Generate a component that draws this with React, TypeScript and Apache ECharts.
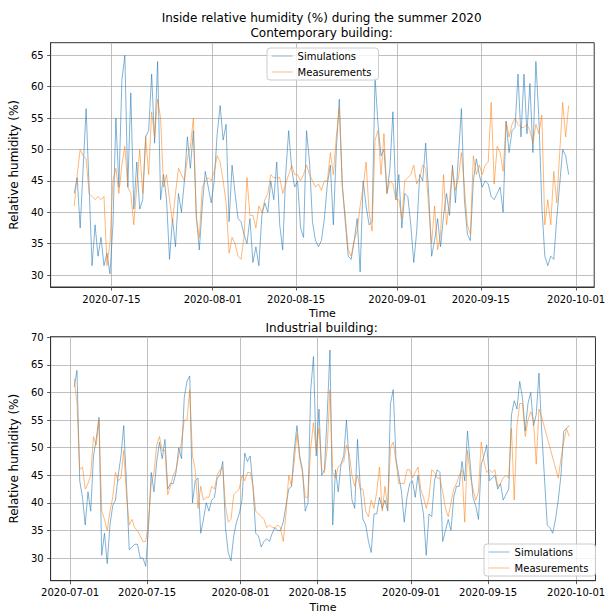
import React, { useEffect, useRef } from "react";
import * as echarts from "echarts";

// Half-day sampled readings (value every 12 h) starting at the given UTC time.
const TOP_START = Date.UTC(2020, 6, 8, 18);
const BOTTOM_START = Date.UTC(2020, 6, 1, 18);
const STEP_MS = 12 * 3600 * 1000;

const topSimulations = [
  43, 45.5, 37.5, 47, 56.5, 44, 31.5, 38, 33, 36, 31.5, 33.5, 30.2, 38, 55, 44, 61, 65, 44, 59,
  40.5, 48, 40.5, 42, 52, 53, 62, 51, 64, 42, 46, 42, 32.5, 39, 34.5, 43, 40, 45, 52, 47,
  53, 39.5, 34, 41, 46.5, 44, 41.5, 45, 52.5, 57, 51.5, 54, 38.5, 47.5, 43, 39,
  38.5, 36.5, 35, 39, 32, 34.5, 31.5, 39.5, 41.5, 40, 45, 42, 48, 38, 34, 46, 53, 47, 44, 45,
  37.5, 36, 53, 48, 38.5, 35.5, 34.5, 35.5, 39, 44.5, 47.5, 38, 50, 58, 44.5, 38.5, 33, 32.5,
  35.5, 39, 30.5, 45, 41, 38, 38.5, 61.5, 54, 49, 50, 43, 47, 56, 42, 46, 37.5, 43, 42.5, 38,
  32, 37, 46, 45,
  51, 43, 33, 35.5, 39, 34.5, 39.5, 43, 39.5, 47.5, 41.5, 49, 56.5, 42, 36.5, 35.5, 45, 48.5,
  46, 44, 45, 44.5, 42.5, 42, 43, 44, 40, 54.5, 49.5, 53, 53.5, 62, 52, 62, 52.5, 60.5, 49.5,
  64, 55, 41, 33, 31.5, 33, 32.5, 39, 44.5, 50, 49, 46,
];

const topMeasurements = [
  41, 46, 50, 49, 48.5, 43, 42.5, 42, 42.5, 42, 42.5, 31.5, 35, 45, 47, 43, 47.5, 50.5, 44, 43,
  38, 44, 50, 43, 52, 46, 56, 52, 58, 55, 44, 46, 42, 38.5, 43, 47, 46, 45, 48.5, 50.5,
  55, 39, 36, 44, 45, 45.5, 45, 46.5, 49, 48, 45, 41.5, 33.5, 36, 35, 33,
  32.5, 36, 45.5, 39.5, 39.5, 37.5, 41, 40, 42, 43, 46, 45.5, 45.5, 45.5, 43, 44.5, 46, 47.5,
  46, 46, 45, 46, 47.5, 46, 45, 44, 44.5, 43.5, 45, 45, 49.5, 46, 52, 56.5, 44, 39.5, 34, 33,
  35.5, 37, 41, 44, 48, 40, 37, 51.5, 53, 46, 52.5, 43, 45, 44.5, 42, 42, 39, 45, 45.5, 46,
  47.5, 44.5, 45.5, 47.5,
  47, 41, 35, 41, 34, 36.5, 46, 38, 42, 47, 43.5, 45.5, 49.5, 44, 38, 36.5, 49, 46, 47.5, 46,
  47.5, 48, 57.5, 44.5, 50.5, 49.5, 46.5, 54.5, 52, 54, 55, 54, 53.5, 53.5, 54, 53, 51, 54,
  52.5, 55.5, 38, 42, 38, 46.5, 41.5, 49.5, 57.5, 52, 57,
];

const bottomSimulations = [
  61, 64, 44, 41, 36, 42, 38.5, 48.5, 51.5, 55.5, 30.5, 34.5, 29, 36, 39.5, 40.5, 45, 48.5, 54,
  43.5, 31.5, 32, 32.5, 32.5, 30, 30, 28.5, 35.5, 45.5, 42, 47.5, 51, 48, 51.5, 42.5, 43.5,
  43.5, 45.5, 50, 48, 59, 62, 63, 40, 44, 44.5, 34.5, 37, 40, 38.5, 40.5, 41, 44.5, 45, 47.5,
  35.5, 31, 29.5, 34, 36.5, 38,
  40.5, 49, 47.5, 48.5, 43, 34.5, 34, 32, 33, 33.5, 33, 34.5, 35.5, 35, 35, 36.5, 39.5, 42.5,
  43, 49.5, 54, 48.5, 46, 38.5, 40, 60.5, 66.5, 48.5, 57, 45, 46, 56, 67.7, 36, 46, 42, 47,
  48.5, 55, 47, 40.5, 39, 51.5, 43, 37, 36, 33, 31, 38, 38, 41, 39, 40.5, 38.5, 58, 60.5, 48,
  45, 42, 36.5, 41, 43.5, 44, 41, 45, 41, 38, 30.5, 38,
  37.5, 44, 46, 45.5, 33, 35, 37, 35, 41, 43, 43, 47.5, 44, 53, 47, 41, 39.5, 37, 47, 48.5,
  50.5, 44, 44.5, 45, 42.5, 43.5, 40.5, 41.5, 42.5, 56, 58.5, 57, 62, 59, 53, 58, 60, 54, 56,
  63.5, 53, 44.5, 36, 35.5, 34.5, 37, 40.5, 45, 53, 53.5, 54,
];

const bottomMeasurements = [
  62.5, 58, 46, 46.5, 42.5, 43.5, 45, 52, 50.5, 55, 38.5, 37, 35, 38.5, 41, 45.5, 44, 44.5,
  49.5, 41.5, 36, 37, 35.5, 35, 34, 33, 33, 36.5, 43.5, 45.5, 50.5, 52, 49.5, 49.5, 41.5, 43,
  45, 46, 48.5, 51, 55, 55, 60.5, 48.5, 46, 39, 43, 40.5, 41, 41, 43, 42.5, 45, 46, 46.5, 39.5,
  36.5, 37, 41.5, 42, 42.5,
  45, 44, 45.5, 45.5, 43, 38.5, 38, 37.5, 37, 35.5, 36, 35.5, 35.5, 36, 35.5, 33, 38, 45, 43,
  47.5, 52.5, 48, 45.5, 41, 41, 50, 54.5, 49.5, 53.5, 46, 45.5, 50, 60.5, 45.5, 44.5, 46.5, 47,
  47.5, 50.5, 49, 45, 43, 45, 42.5, 42.5, 38.5, 37.5, 40.5, 39, 42, 46.5, 38.5, 43, 39, 50, 51,
  47.5, 43.5, 43.5, 43.5, 46, 46, 44.5, 45.5, 46.5, 42.5, 41, 39, 41,
  46, 45.5, 44.5, 44.5, 42, 39, 37.5, 40, 42.5, 43.5, 45, 46, 36.5, 49.5, 45, 42.5, 40.5, 42,
  51, 47.5, 45.5, 46, 45.5, 46, 43, 43.5, 44.5, 45, 44.5, 53.5, 40.5, 54, 58, 58, 52, 55, 56.5,
  55, 47, 57, 55.5, null, null, null, null, null, 44.5, 48, 51, 53.5, 52,
];

const topTickDates = ["2020-07-15", "2020-08-01", "2020-08-15", "2020-09-01", "2020-09-15", "2020-10-01"];
const bottomTickDates = ["2020-07-01", "2020-07-15", "2020-08-01", "2020-08-15", "2020-09-01", "2020-09-15", "2020-10-01"];
const topYTicks = [30, 35, 40, 45, 50, 55, 60, 65];
const bottomYTicks = [30, 35, 40, 45, 50, 55, 60, 65, 70];

const TITLE_MAIN = "Inside relative humidity (%) during the summer 2020";
const TITLE_TOP = "Contemporary building:";
const TITLE_BOTTOM = "Industrial building:";
const SERIES_NAMES = ["Simulations", "Measurements"];

const FONT = "DejaVu Sans";
const BLUE = "#1f77b4";
const ORANGE = "#ff7f0e";

const toSeries = (start: number, values: (number | null)[]) =>
  values.map((v, i) => [start + i * STEP_MS, v]);

const fmtDate = (v: number) => {
  const d = new Date(v);
  const m = String(d.getUTCMonth() + 1).padStart(2, "0");
  const day = String(d.getUTCDate()).padStart(2, "0");
  return `${d.getUTCFullYear()}-${m}-${day}`;
};

function xAxisFor(gridIndex: number, min: number, max: number, ticks: string[]) {
  const values = ticks.map((t) => Date.parse(t));
  return {
    type: "value",
    gridIndex,
    min,
    max,
    name: "Time",
    nameLocation: "middle",
    nameGap: 21,
    nameTextStyle: { fontFamily: FONT, fontSize: 11, color: "#000" },
    axisLine: { show: true, lineStyle: { color: "#333", width: 1 } },
    axisTick: { show: true, length: 3.5, customValues: values, lineStyle: { color: "#333", width: 0.8 } },
    axisLabel: {
      customValues: values,
      formatter: (v: number) => fmtDate(v),
      margin: 7,
      fontFamily: FONT,
      fontSize: 10,
      color: "#000",
      hideOverlap: false,
    },
    splitLine: { show: true, lineStyle: { color: "#b0b0b0", width: 0.8 } },
  };
}

function yAxisFor(gridIndex: number, min: number, max: number, ticks: number[]) {
  return {
    type: "value",
    gridIndex,
    min,
    max,
    name: "Relative humidity (%)",
    nameLocation: "middle",
    nameGap: 24,
    nameRotate: 90,
    nameTextStyle: { fontFamily: FONT, fontSize: 12, color: "#000" },
    axisLine: { show: true, lineStyle: { color: "#333", width: 1 } },
    axisTick: { show: true, length: 3.5, customValues: ticks, lineStyle: { color: "#333", width: 0.8 } },
    axisLabel: { customValues: ticks, margin: 7, fontFamily: FONT, fontSize: 10, color: "#000" },
    splitLine: { show: true, lineStyle: { color: "#b0b0b0", width: 0.8 } },
  };
}

function lineSeries(name: string, color: string, xi: number, data: any[]) {
  return {
    type: "line",
    name,
    xAxisIndex: xi,
    yAxisIndex: xi,
    data,
    symbol: "none",
    showSymbol: false,
    connectNulls: true,
    lineStyle: { color, width: 0.8, opacity: 0.7 },
    itemStyle: { color },
    emphasis: { disabled: true },
    z: color === ORANGE ? 3 : 2,
  };
}

function legendAt(left: number, top: number) {
  return {
    data: SERIES_NAMES,
    orient: "vertical",
    left,
    top,
    itemWidth: 21,
    itemHeight: 10,
    itemGap: 6,
    padding: [3, 7, 3, 4],
    backgroundColor: "rgba(255,255,255,0.8)",
    borderColor: "#cccccc",
    borderWidth: 1,
    borderRadius: 3,
    selectedMode: false,
    itemStyle: { opacity: 0 },
    lineStyle: { width: 1.2, opacity: 0.45 },
    textStyle: { fontFamily: FONT, fontSize: 10, color: "#000" },
  };
}

export default function App() {
  const ref = useRef<HTMLDivElement>(null);
  useEffect(() => {
    if (!ref.current) return;
    const chart = echarts.init(ref.current, undefined, { renderer: "svg" });
    chart.setOption({
      animation: false,
      backgroundColor: "#ffffff",
      textStyle: { fontFamily: FONT },
      grid: [
        { left: 46, top: 42.7, width: 551.3, height: 244.3, show: true, borderColor: "#333", borderWidth: 1, backgroundColor: "transparent" },
        { left: 46, top: 336.7, width: 551.3, height: 244, show: true, borderColor: "#333", borderWidth: 1, backgroundColor: "transparent" },
      ],
      xAxis: [
        xAxisFor(0, Date.UTC(2020, 6, 4, 19), Date.UTC(2020, 9, 4, 1), topTickDates),
        xAxisFor(1, Date.UTC(2020, 5, 27, 11), Date.UTC(2020, 9, 4, 12, 30), bottomTickDates),
      ],
      yAxis: [yAxisFor(0, 28.1, 67.0, topYTicks), yAxisFor(1, 25.9, 70.1, bottomYTicks)],
      legend: [legendAt(267, 48), legendAt(484, 544)],
      series: [
        lineSeries(SERIES_NAMES[0], BLUE, 0, toSeries(TOP_START, topSimulations)),
        lineSeries(SERIES_NAMES[1], ORANGE, 0, toSeries(TOP_START, topMeasurements)),
        lineSeries(SERIES_NAMES[0], BLUE, 1, toSeries(BOTTOM_START, bottomSimulations)),
        lineSeries(SERIES_NAMES[1], ORANGE, 1, toSeries(BOTTOM_START, bottomMeasurements)),
      ],
      graphic: [
        { type: "text", x: 321.6, y: 18.3, style: { text: TITLE_MAIN, fontFamily: FONT, fontSize: 12, fill: "#000", align: "center", verticalAlign: "middle" } },
        { type: "text", x: 321.6, y: 33.3, style: { text: TITLE_TOP, fontFamily: FONT, fontSize: 12, fill: "#000", align: "center", verticalAlign: "middle" } },
        { type: "text", x: 321.6, y: 327.7, style: { text: TITLE_BOTTOM, fontFamily: FONT, fontSize: 12, fill: "#000", align: "center", verticalAlign: "middle" } },
      ],
    });
    return () => chart.dispose();
  }, []);
  return <div ref={ref} style={{ position: "fixed", left: 0, top: 0, width: 608, height: 614 }} />;
}
